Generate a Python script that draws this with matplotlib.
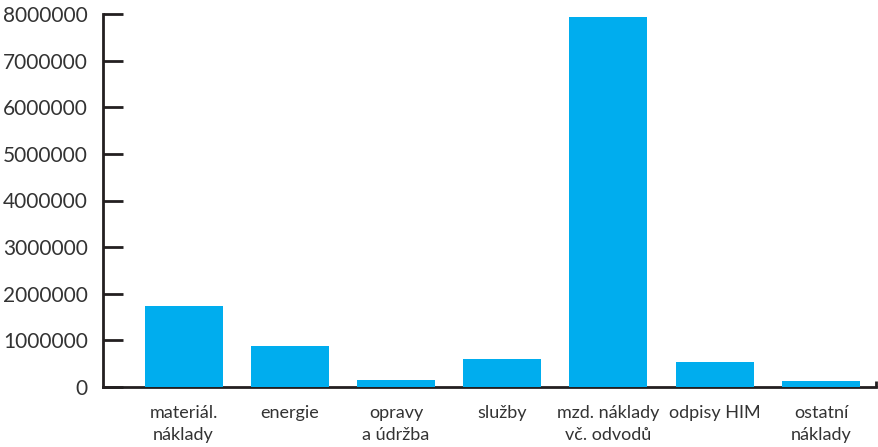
import matplotlib
matplotlib.use("Agg")
import matplotlib.pyplot as plt

categories = ["materiál.\nnáklady", "energie", "opravy\na údržba", "služby",
              "mzd. náklady\nvč. odvodů", "odpisy HIM", "ostatní\nnáklady"]
values = [1740000, 880000, 150000, 600000, 7940000, 540000, 130000]
yticks = [0, 1000000, 2000000, 3000000, 4000000, 5000000, 6000000, 7000000, 8000000]

plt.rcParams['font.family'] = ['Lato', 'DejaVu Sans']

fig = plt.figure(figsize=(8.79, 4.47), dpi=100)
ax = fig.add_axes([103 / 879, 60 / 447, (876 - 103) / 879, (387 - 14) / 447])

xs = list(range(len(categories)))
ax.bar(xs, values, width=0.734, color="#00adee", zorder=1)

ax.set_xlim(-0.758, 6.518)
ax.set_ylim(0, 8000000)
ax.set_yticks(yticks)
ax.set_yticklabels([str(v) for v in yticks])
ax.set_xticks(xs)
ax.set_xticklabels(categories, linespacing=1.45)

for side in ["top", "right"]:
    ax.spines[side].set_visible(False)
for side in ["left", "bottom"]:
    ax.spines[side].set_color("#231f20")
    ax.spines[side].set_linewidth(2)
    ax.spines[side].set_zorder(0)

ax.tick_params(axis="y", direction="in", length=14.5, width=2, color="#231f20",
               pad=11, labelsize=15, labelcolor="#333333")
ax.tick_params(axis="x", length=0, pad=13, labelsize=13, labelcolor="#333333")
ax.set_xticks([6.518], minor=True)
ax.tick_params(axis="x", which="minor", direction="in", length=4, width=2, color="#231f20")

fig.savefig("out.png", dpi=100)
